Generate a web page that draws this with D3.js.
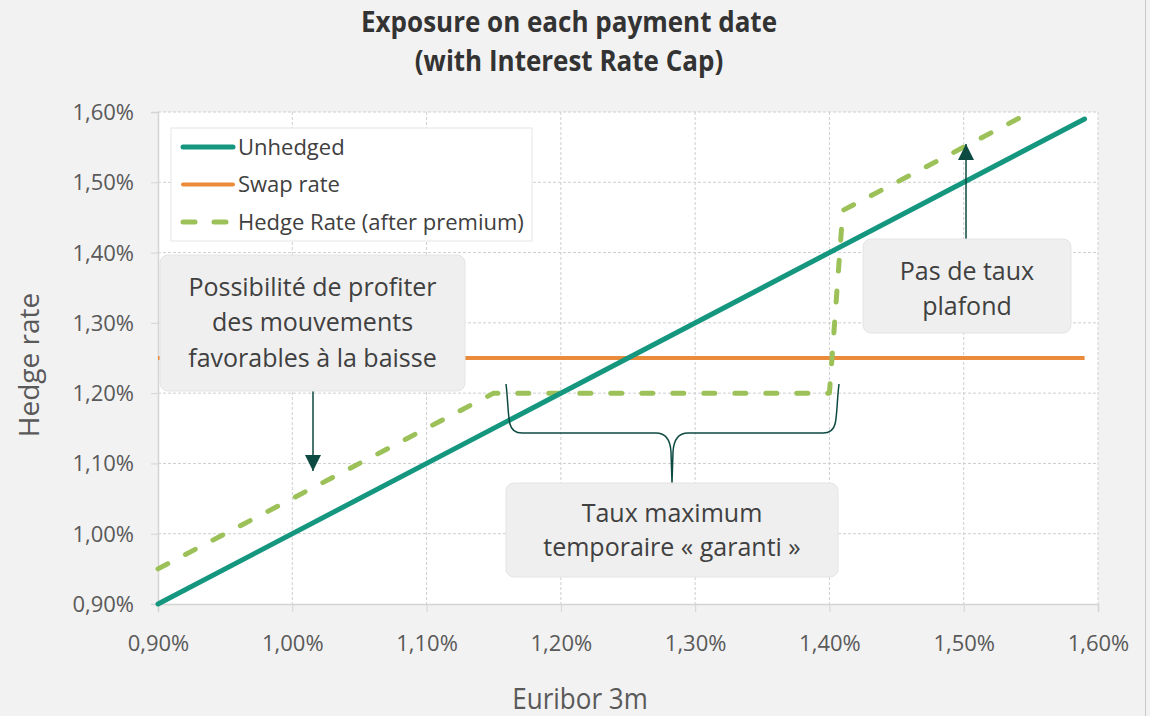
<!DOCTYPE html>
<html>
<head>
<meta charset="utf-8">
<script src="https://cdn.jsdelivr.net/npm/d3@7"></script>
<style>
  body { margin: 0; background: #f2f2f2; }
  svg { display: block; font-family: "Open Sans", "Noto Sans", sans-serif; }
</style>
</head>
<body>
<div id="chart"></div>
<script>
// data (values in %)
const xTicks = [0.90, 1.00, 1.10, 1.20, 1.30, 1.40, 1.50, 1.60]
const yTicks = [0.90, 1.00, 1.10, 1.20, 1.30, 1.40, 1.50, 1.60]
const unhedgedX = [0.90, 1.59]
const unhedgedY = [0.90, 1.59]
const swapX = [0.90, 1.59]
const swapY = [1.25, 1.25]
const hedgeX = [0.90, 1.15, 1.40, 1.41, 1.55]
const hedgeY = [0.95, 1.20, 1.20, 1.46, 1.60]
const seriesNames = ["Unhedged", "Swap rate", "Hedge Rate (after premium)"]
const colors = ["#15977f", "#ea8a3b", "#9cc158"]

const W = 1150, H = 716
const margin = {top: 112, right: 52, bottom: 112, left: 158}
const width = W - margin.left - margin.right
const height = H - margin.top - margin.bottom

const fmt = v => v.toFixed(2).replace(".", ",") + "%"

const x = d3.scaleLinear().domain([0.90, 1.60]).range([0, width])
const y = d3.scaleLinear().domain([0.90, 1.60]).range([height, 0])

const svg = d3.select("#chart").append("svg")
    .attr("width", W)
    .attr("height", H)

svg.append("rect").attr("width", W).attr("height", H).attr("fill", "#f2f2f2")
svg.append("line")
    .attr("x1", 1145.5).attr("x2", 1145.5).attr("y1", 0).attr("y2", H)
    .attr("stroke", "#c9c9c9")

// title (the reference type is slightly stretched vertically)
const title = (t, ty) => svg.append("text")
    .attr("transform", "translate(569," + ty + ") scale(1,1.1)")
    .attr("text-anchor", "middle")
    .attr("font-size", 26).attr("font-weight", "bold")
    .attr("fill", "#333")
    .text(t)
title("Exposure on each payment date", 32)
title("(with Interest Rate Cap)", 71)

const g = svg.append("g")
    .attr("transform", "translate(" + margin.left + "," + margin.top + ")")

g.append("rect").attr("width", width).attr("height", height).attr("fill", "#fff")

// grid
g.selectAll(".vgrid").data(xTicks.slice(1)).enter().append("line")
    .attr("x1", d => x(d)).attr("x2", d => x(d))
    .attr("y1", 0).attr("y2", height)
    .attr("stroke", "#cfcfcf").attr("stroke-dasharray", "3,2")
g.selectAll(".hgrid").data(yTicks.slice(1)).enter().append("line")
    .attr("x1", 0).attr("x2", width)
    .attr("y1", d => y(d)).attr("y2", d => y(d))
    .attr("stroke", "#cfcfcf").attr("stroke-dasharray", "3,2")

// axes
const xAxis = g.append("g")
    .attr("transform", "translate(0," + height + ")")
    .call(d3.axisBottom(x).tickValues(xTicks).tickFormat(fmt).tickSize(8))
const yAxis = g.append("g")
    .call(d3.axisLeft(y).tickValues(yTicks).tickFormat(fmt).tickSize(7).tickPadding(17))
;[xAxis, yAxis].forEach(a => {
    a.select(".domain").attr("stroke", "#d4d4d4").attr("stroke-width", 1.5)
    a.selectAll(".tick line").attr("stroke", "#d4d4d4")
    a.selectAll("text").attr("font-size", 22).attr("fill", "#595959")
        .attr("font-family", "'Open Sans', sans-serif")
})
xAxis.selectAll("text").attr("y", 47).attr("dy", 0)
yAxis.selectAll("text").attr("dy", "0.34em")

svg.append("text")
    .attr("transform", "translate(39,365) rotate(-90)")
    .attr("text-anchor", "middle")
    .attr("font-size", 28).attr("fill", "#595959")
    .text("Hedge rate")
svg.append("text")
    .attr("transform", "translate(580,709) scale(1,1.1)")
    .attr("text-anchor", "middle")
    .attr("font-size", 26).attr("fill", "#595959")
    .text("Euribor 3m")

// series
const line = d3.line().x(d => x(d[0])).y(d => y(d[1]))
const plot = g.append("g")
plot.append("path")
    .datum(d3.zip(swapX, swapY))
    .attr("d", line).attr("fill", "none")
    .attr("stroke", colors[1]).attr("stroke-width", 4)
plot.append("path")
    .datum(d3.zip(hedgeX, hedgeY))
    .attr("d", line).attr("fill", "none")
    .attr("stroke", colors[2]).attr("stroke-width", 5)
    .attr("stroke-linecap", "round").attr("stroke-linejoin", "round")
    .attr("stroke-dasharray", "11,20")
plot.append("path")
    .datum(d3.zip(unhedgedX, unhedgedY))
    .attr("d", line).attr("fill", "none")
    .attr("stroke", colors[0]).attr("stroke-width", 5)
    .attr("stroke-linecap", "round")

// legend
const legend = svg.append("g").attr("transform", "translate(171,128)")
legend.append("rect").attr("width", 361).attr("height", 113)
    .attr("fill", "#fff").attr("stroke", "#e6e6e6")
seriesNames.forEach((name, i) => {
    const ly = 19 + i * 37.5
    legend.append("line")
        .attr("x1", 12).attr("x2", 62).attr("y1", ly).attr("y2", ly)
        .attr("stroke", colors[i]).attr("stroke-width", i == 1 ? 4 : 5)
        .attr("stroke-linecap", "round")
        .attr("stroke-dasharray", i == 2 ? "12,19" : null)
    legend.append("text")
        .attr("x", 67).attr("y", ly).attr("dy", "0.35em")
        .attr("font-size", 22).attr("fill", "#404040")
        .text(name)
})

// annotations
const dark = "#0d4a41"
svg.append("defs").append("marker")
    .attr("id", "head").attr("viewBox", "0 0 10 10")
    .attr("refX", 10).attr("refY", 5)
    .attr("markerWidth", 16).attr("markerHeight", 16)
    .attr("markerUnits", "userSpaceOnUse")
    .attr("orient", "auto")
    .append("path").attr("d", "M0,0L10,5L0,10Z").attr("fill", dark)

const box = (x0, y0, w, h, lines, cy, gap) => {
    svg.append("rect")
        .attr("x", x0).attr("y", y0).attr("width", w).attr("height", h)
        .attr("rx", 8).attr("fill", "#efefef").attr("stroke", "#e4e4e4")
    lines.forEach((t, i) => {
        svg.append("text")
            .attr("x", x0 + w / 2).attr("y", cy + i * gap).attr("dy", "0.35em")
            .attr("text-anchor", "middle")
            .attr("font-size", 25).attr("fill", "#404040")
            .text(t)
    })
}

svg.append("line")
    .attr("x1", 313).attr("x2", 313).attr("y1", 391).attr("y2", 471)
    .attr("stroke", dark).attr("stroke-width", 1.5)
    .attr("marker-end", "url(#head)")
box(160, 255, 305, 136, ["Possibilité de profiter", "des mouvements", "favorables à la baisse"], 287, 35.5)

svg.append("line")
    .attr("x1", 966).attr("x2", 966).attr("y1", 239).attr("y2", 144)
    .attr("stroke", dark).attr("stroke-width", 1.5)
    .attr("marker-end", "url(#head)")
box(863, 239, 208, 94, ["Pas de taux", "plafond"], 271, 35)

svg.append("path")
    .attr("d", "M506,384 C508,400 508,418 510,424 Q512,433 522,433 L656,433 Q670,433 671,452 L672,483" +
               " M839,384 C837,400 837,418 835,424 Q833,433 823,433 L688,433 Q674,433 673,452 L672,483")
    .attr("fill", "none").attr("stroke", dark).attr("stroke-width", 1.5)
box(506, 483, 332, 94, ["Taux maximum", "temporaire « garanti »"], 513, 34)
</script>
</body>
</html>
